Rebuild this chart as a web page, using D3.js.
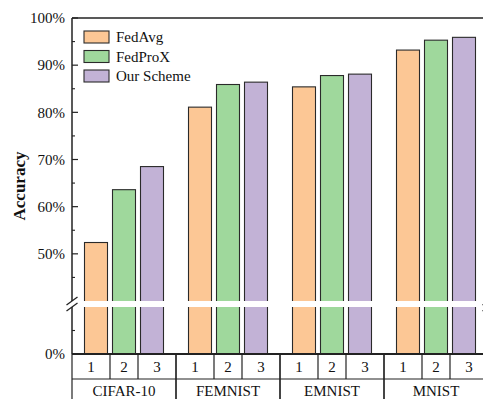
<!DOCTYPE html>
<html>
<head>
<meta charset="utf-8">
<script src="https://cdn.jsdelivr.net/npm/d3@7"></script>
<style>
  html, body { margin: 0; padding: 0; background: #fff; }
  svg { display: block; }
  text { font-family: "Liberation Serif", "Times New Roman", serif; fill: #111; }
</style>
</head>
<body>
<svg id="chart" width="483" height="399"></svg>
<script>
// Datasets, methods and accuracies (%)
const datasets = ["CIFAR-10", "FEMNIST", "EMNIST", "MNIST"];
const methods = ["FedAvg", "FedProX", "Our Scheme"];
const methodIndex = ["1", "2", "3"];
const fedAvg = [52.4, 81.1, 85.4, 93.2];
const fedProx = [63.6, 85.9, 87.8, 95.3];
const ourScheme = [68.5, 86.4, 88.1, 95.9];
const colors = ["#fcc795", "#9fd89c", "#c2b2d6"];
const upperTicks = [50, 60, 70, 80, 90, 100];
const upperMinor = [45, 55, 65, 75, 85, 95];
const lowerTicks = [0];
const lowerMinor = [10];

const seriesValues = [fedAvg, fedProx, ourScheme];

const svg = d3.select("#chart");
const plotLeft = 72, plotRight = 488;
const plotTop = 18, breakTop = 301, breakBottom = 307, plotBottom = 354;

// Broken y axis: 40–100 above the break, 0–20 below it
const yUp = d3.scaleLinear().domain([40, 100]).range([breakTop, plotTop]);
const yLow = d3.scaleLinear().domain([0, 20]).range([plotBottom, breakBottom]);

const x = d3.scaleBand().domain(datasets).range([plotLeft, plotRight]).padding(0);
const xs = d3.scalePoint().domain(methods).range([-28, 28]);
const barW = 23;

// Bars
const barData = [];
datasets.forEach((d, i) => methods.forEach((m, j) => barData.push({ d, m, j, v: seriesValues[j][i] })));

svg.append("g").selectAll("rect").data(barData).join("rect")
  .attr("x", b => x(b.d) + x.bandwidth() / 2 + xs(b.m) - barW / 2)
  .attr("y", b => yUp(b.v))
  .attr("width", barW)
  .attr("height", b => yLow(0) - yUp(b.v))
  .attr("fill", b => colors[b.j])
  .attr("stroke", "#2a2a2a")
  .attr("stroke-width", 1.1);

// White gap across the plot at the axis break
svg.append("rect")
  .attr("x", plotLeft + 1).attr("y", yUp(40))
  .attr("width", plotRight - plotLeft).attr("height", yLow(20) - yUp(40))
  .attr("fill", "#fff");

// Frame lines
const axisColor = "#222";
svg.append("line").attr("x1", plotLeft).attr("x2", plotRight).attr("y1", plotTop).attr("y2", plotTop)
  .attr("stroke", axisColor).attr("stroke-width", 1.5);
[plotLeft, plotRight].forEach(ax => {
  svg.append("line").attr("x1", ax).attr("x2", ax).attr("y1", plotTop).attr("y2", yUp(40))
    .attr("stroke", axisColor).attr("stroke-width", 1.5);
  svg.append("line").attr("x1", ax).attr("x2", ax).attr("y1", yLow(20)).attr("y2", yLow(0))
    .attr("stroke", axisColor).attr("stroke-width", 1.5);
  // break marks
  [yUp(40), yLow(20)].forEach(yb => {
    svg.append("line").attr("x1", ax - 5.5).attr("x2", ax + 5.5)
      .attr("y1", yb + 4).attr("y2", yb - 4)
      .attr("stroke", axisColor).attr("stroke-width", 1.2);
  });
});

// Y ticks (inward) and labels
const tickG = svg.append("g");
upperTicks.forEach(t => {
  tickG.append("line").attr("x1", plotLeft).attr("x2", plotLeft + 6).attr("y1", yUp(t)).attr("y2", yUp(t))
    .attr("stroke", axisColor).attr("stroke-width", 1.2);
  tickG.append("text").attr("x", plotLeft - 7).attr("y", yUp(t)).attr("dy", "0.35em")
    .attr("text-anchor", "end").attr("font-size", 15).text(t + "%");
});
upperMinor.forEach(t => {
  tickG.append("line").attr("x1", plotLeft).attr("x2", plotLeft + 3).attr("y1", yUp(t)).attr("y2", yUp(t))
    .attr("stroke", axisColor).attr("stroke-width", 1.1);
});
lowerTicks.forEach(t => {
  tickG.append("text").attr("x", plotLeft - 7).attr("y", yLow(t)).attr("dy", "0.35em")
    .attr("text-anchor", "end").attr("font-size", 15).text(t + "%");
});
lowerMinor.forEach(t => {
  tickG.append("line").attr("x1", plotLeft).attr("x2", plotLeft + 3).attr("y1", yLow(t)).attr("y2", yLow(t))
    .attr("stroke", axisColor).attr("stroke-width", 1.1);
});

// Y axis title
svg.append("text")
  .attr("transform", `translate(25,${(plotTop + plotBottom) / 2}) rotate(-90)`)
  .attr("text-anchor", "middle").attr("font-size", 17).attr("font-weight", "bold")
  .text("Accuracy");

// Category table below the plot
const row1 = plotBottom, row2 = plotBottom + 25, row3 = plotBottom + 50;
const tbl = svg.append("g").attr("stroke", axisColor).attr("stroke-width", 1.2);
tbl.append("line").attr("x1", plotLeft).attr("x2", plotRight).attr("y1", row1).attr("y2", row1).attr("stroke-width", 1.8);
tbl.append("line").attr("x1", plotLeft).attr("x2", plotRight).attr("y1", row2).attr("y2", row2);
datasets.forEach(d => {
  const x0 = x(d), cx = x0 + x.bandwidth() / 2;
  const edges = [x0, cx - 14, cx + 14, x0 + x.bandwidth()];
  edges.forEach((e, k) => {
    tbl.append("line").attr("x1", e).attr("x2", e)
      .attr("y1", row1).attr("y2", (k === 0 || k === 3) ? row3 : row2);
  });
  methodIndex.forEach((lab, k) => {
    svg.append("text").attr("x", (edges[k] + edges[k + 1]) / 2).attr("y", (row1 + row2) / 2)
      .attr("dy", "0.36em").attr("text-anchor", "middle").attr("font-size", 15).text(lab);
  });
  svg.append("text").attr("x", cx).attr("y", row2 + 17)
    .attr("text-anchor", "middle").attr("font-size", 15).text(d);
});

// Legend
const lg = svg.append("g").attr("transform", "translate(84,31)");
methods.forEach((m, j) => {
  const g = lg.append("g").attr("transform", `translate(0,${j * 19.5})`);
  g.append("rect").attr("width", 25).attr("height", 12)
    .attr("fill", colors[j]).attr("stroke", "#2a2a2a").attr("stroke-width", 1.1);
  g.append("text").attr("x", 32).attr("y", 6).attr("dy", "0.35em")
    .attr("font-size", 15).text(m);
});
</script>
</body>
</html>
